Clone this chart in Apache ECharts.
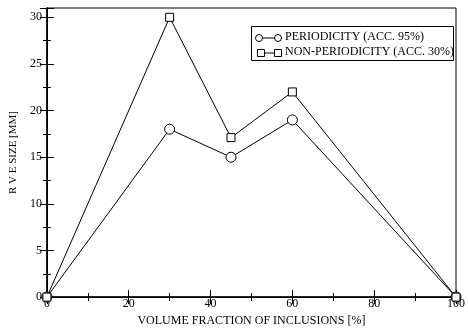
<!DOCTYPE html>
<html>
<head>
<meta charset="utf-8">
<script src="https://cdn.jsdelivr.net/npm/echarts@6/dist/echarts.min.js"></script>
<style>
html, body { margin: 0; padding: 0; background: #fff; }
#chartmain { width: 468px; height: 332px; }
</style>
</head>
<body>
<div id="chartmain"></div>
<script>
var fractions = [0, 30, 45, 60, 100];
var periodicity = [0, 18, 15, 19, 0];
var nonPeriodicity = [0, 30, 17.1, 22, 0];
var seriesNames = ['PERIODICITY (ACC. 95%)', 'NON-PERIODICITY (ACC. 30%)'];

function pairs(xs, ys) {
	var out = [];
	for (var i = 0; i < xs.length; i++) {
		out.push([xs[i], ys[i]]);
	}
	return out;
}

var font = 'Liberation Serif';
var tickStyle = { color: '#000', width: 1 };
var markStyle = { fill: '#fff', stroke: '#000', lineWidth: 1 };

// legend box drawn by hand: marker-line-marker like the original
var legendItems = [
	{ type: 'rect', shape: { x: 251.5, y: 26.5, width: 202, height: 34 }, style: { fill: '#fff', stroke: '#000', lineWidth: 1 } },
	{ type: 'line', shape: { x1: 259, y1: 38, x2: 278, y2: 38 }, style: { stroke: '#000', lineWidth: 1 } },
	{ type: 'circle', shape: { cx: 259, cy: 38, r: 3.5 }, style: markStyle },
	{ type: 'circle', shape: { cx: 278, cy: 38, r: 3.5 }, style: markStyle },
	{ type: 'text', left: 285, top: 31, style: { text: seriesNames[0], font: '12px ' + font, fill: '#000' } },
	{ type: 'line', shape: { x1: 261, y1: 53, x2: 278, y2: 53 }, style: { stroke: '#000', lineWidth: 1 } },
	{ type: 'rect', shape: { x: 257.5, y: 49.5, width: 7, height: 7 }, style: markStyle },
	{ type: 'rect', shape: { x: 274.5, y: 49.5, width: 7, height: 7 }, style: markStyle },
	{ type: 'text', left: 285, top: 46, style: { text: seriesNames[1], font: '12px ' + font, fill: '#000' } }
];

var option = {
	animation: false,
	textStyle: { fontFamily: font },
	grid: {
		left: 42, right: 6, top: 8, bottom: 31,
		show: true, borderColor: '#000', borderWidth: 1
	},
	graphic: legendItems,
	xAxis: [{
		type: 'value', min: 0, max: 100, interval: 20,
		name: 'VOLUME FRACTION OF INCLUSIONS [%]',
		nameLocation: 'middle', nameGap: 15,
		nameTextStyle: { fontFamily: font, fontSize: 12, color: '#000' },
		axisLine: { lineStyle: { color: '#000', width: 1.5 } },
		axisTick: { inside: true, length: 7, lineStyle: tickStyle },
		minorTick: { show: true, splitNumber: 2, length: 4, lineStyle: tickStyle },
		axisLabel: { fontFamily: font, fontSize: 12, color: '#000', margin: 1 },
		splitLine: { show: false }
	}, {
		type: 'value', min: 0, max: 100, interval: 20, position: 'top',
		axisLine: { lineStyle: { color: '#000' } },
		axisTick: { inside: true, length: 7, lineStyle: tickStyle },
		minorTick: { show: true, splitNumber: 2, length: 4, lineStyle: tickStyle },
		axisLabel: { show: false },
		splitLine: { show: false }
	}],
	yAxis: [{
		type: 'value', min: 0, max: 31, interval: 5,
		name: 'R V E SIZE [MM]',
		nameLocation: 'middle', nameGap: 25,
		nameTextStyle: { fontFamily: font, fontSize: 11, color: '#000' },
		axisLine: { lineStyle: { color: '#000', width: 1.5 } },
		axisTick: { inside: true, length: 7, lineStyle: tickStyle },
		minorTick: { show: true, splitNumber: 2, length: 4, lineStyle: tickStyle },
		axisLabel: {
			fontFamily: font, fontSize: 12, color: '#000', margin: 5,
			formatter: function(v) { return v % 5 === 0 ? String(v) : ''; }
		},
		splitLine: { show: false }
	}, {
		type: 'value', min: 0, max: 31, interval: 5, position: 'right',
		axisLine: { lineStyle: { color: '#000' } },
		axisTick: { inside: true, length: 7, lineStyle: tickStyle },
		minorTick: { show: true, splitNumber: 2, length: 4, lineStyle: tickStyle },
		axisLabel: { show: false },
		splitLine: { show: false }
	}],
	series: [{
		name: seriesNames[0],
		type: 'line',
		data: pairs(fractions, periodicity),
		symbol: 'circle', symbolSize: 10,
		lineStyle: { color: '#000', width: 1 },
		itemStyle: { color: '#fff', borderColor: '#000', borderWidth: 1 },
		z: 3
	}, {
		name: seriesNames[1],
		type: 'line',
		data: pairs(fractions, nonPeriodicity),
		symbol: 'rect', symbolSize: 8,
		lineStyle: { color: '#000', width: 1 },
		itemStyle: { color: '#fff', borderColor: '#000', borderWidth: 1 },
		z: 4
	}]
};

// 初始化echarts实例
var myChart = echarts.init(document.getElementById('chartmain'));
myChart.setOption(option);
</script>
</body>
</html>
